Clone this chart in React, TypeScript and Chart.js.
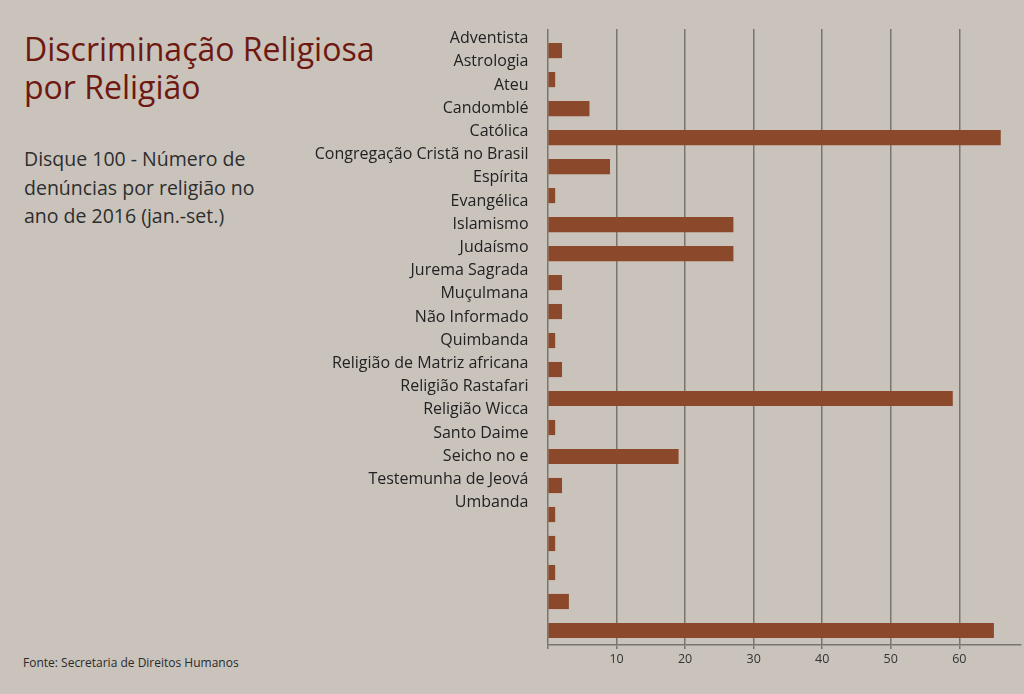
import React, { useEffect, useRef } from "react";
import { Chart, registerables } from "chart.js";

Chart.register(...registerables);

const religions: string[] = [
  "Adventista",
  "Astrologia",
  "Ateu",
  "Candomblé",
  "Católica",
  "Congregação Cristã no Brasil",
  "Espírita",
  "Evangélica",
  "Islamismo",
  "Judaísmo",
  "Jurema Sagrada",
  "Muçulmana",
  "Não Informado",
  "Quimbanda",
  "Religião de Matriz africana",
  "Religião Rastafari",
  "Religião Wicca",
  "Santo Daime",
  "Seicho no e",
  "Testemunha de Jeová",
  "Umbanda",
];

const complaints: number[] = [2, 1, 6, 66, 9, 1, 27, 27, 2, 2, 1, 2, 59, 1, 19, 2, 1, 1, 1, 3, 65];

const xTicks: number[] = [0, 10, 20, 30, 40, 50, 60];

const BG = "#c9c3bc";
const BAR = "#8c482b";
const GRID = "#7a7571";
const FONT = "'Open Sans', Lato, sans-serif";

export default function App() {
  const ref = useRef<HTMLCanvasElement | null>(null);

  useEffect(() => {
    document.body.style.margin = "0";
    const canvas = ref.current;
    if (!canvas) return;
    const chart = new Chart(canvas, {
      type: "bar",
      data: {
        datasets: [
          {
            data: complaints.map((v, i) => ({ x: v, y: i })),
            backgroundColor: BAR,
            borderWidth: 0,
            barThickness: 14.5,
            yAxisID: "y",
          },
        ],
      },
      options: {
        indexAxis: "y",
        responsive: false,
        animation: false,
        layout: { padding: { top: 29, right: 3, bottom: 25, left: 0 } },
        plugins: {
          legend: { display: false },
          tooltip: { enabled: false },
          title: { display: false },
        },
        scales: {
          x: {
            type: "linear",
            position: "bottom",
            min: 0,
            max: 69,
            offset: false,
            afterBuildTicks: (scale: any) => {
              scale.ticks = xTicks.map((v) => ({ value: v }));
            },
            afterFit: (scale: any) => {
              scale.height = 24;
            },
            grid: {
              color: GRID,
              lineWidth: 1.5,
              drawTicks: true,
              tickLength: 4,
              offset: false,
            },
            border: { display: true, color: GRID, width: 1.5 },
            ticks: {
              padding: 3,
              color: "#333333",
              font: { family: FONT, size: 12.5 },
              callback: (v: any) => (v === 0 ? "" : String(v)),
            },
          },
          y: {
            type: "linear",
            display: false,
            reverse: true,
            offset: false,
            min: -0.741,
            max: 20.5,
            grid: { offset: false },
            afterBuildTicks: (scale: any) => {
              scale.ticks = complaints.map((_, i) => ({ value: i }));
            },
          },
          y2: {
            type: "linear",
            position: "left",
            reverse: true,
            offset: false,
            min: -0.409,
            max: 26.13,
            afterBuildTicks: (scale: any) => {
              scale.ticks = religions.map((_, i) => ({ value: i }));
            },
            afterFit: (scale: any) => {
              scale.width = 548;
            },
            grid: { display: false, drawTicks: false, offset: false },
            border: { display: false },
            ticks: {
              padding: 19.5,
              color: "#222222",
              autoSkip: false,
              font: { family: FONT, size: 16 },
              callback: (v: any) => religions[Math.round(Number(v))] ?? "",
            },
          },
        },
      },
    });
    return () => chart.destroy();
  }, []);

  return (
    <div
      style={{
        position: "fixed",
        left: 0,
        top: 0,
        width: 1024,
        height: 694,
        background: BG,
        overflow: "hidden",
        fontFamily: FONT,
      }}
    >
      <div
        style={{
          position: "absolute",
          left: 24,
          top: 30,
          color: "#6e1810",
          fontSize: 32,
          lineHeight: "38px",
          whiteSpace: "nowrap",
        }}
      >
        Discriminação Religiosa
        <br />
        por Religião
      </div>
      <div
        style={{
          position: "absolute",
          left: 24,
          top: 145,
          color: "#2e2e2e",
          fontSize: 19.5,
          lineHeight: "28.5px",
          whiteSpace: "nowrap",
        }}
      >
        Disque 100 - Número de
        <br />
        denúncias por religião no
        <br />
        ano de 2016 (jan.-set.)
      </div>
      <div
        style={{
          position: "absolute",
          left: 23,
          top: 654,
          color: "#2a2a2a",
          fontSize: 12,
          whiteSpace: "nowrap",
        }}
      >
        Fonte: Secretaria de Direitos Humanos
      </div>
      <canvas
        ref={ref}
        width={1024}
        height={694}
        style={{ position: "absolute", left: 0, top: 0, width: 1024, height: 694 }}
      />
    </div>
  );
}
